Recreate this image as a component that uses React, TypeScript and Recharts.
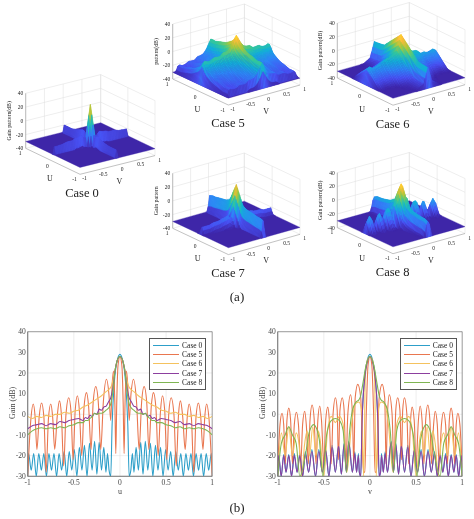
import React from "react";
import { ScatterChart, Scatter, XAxis, YAxis, LineChart, Line, CartesianGrid, ReferenceArea, Legend } from "recharts";

type Cut = [number, number][];

// Half cuts [offset from 0, gain dB]; the patterns read as symmetric about 0.
const case0U: Cut = [[0,29],[.03,26],[.06,16],[.085,-5],[.1,-30],[.118,-27],[.135,-19],[.152,-28],[.175,-16],[.2,-27],[.225,-13.5],[.25,-29],[.275,-13],[.302,-27],[.33,-14],[.357,-30],[.385,-15],[.412,-27],[.44,-16],[.467,-30],[.495,-17],[.522,-27],[.55,-18],[.577,-30],[.605,-18],[.632,-27],[.66,-19],[.687,-30],[.715,-19],[.742,-27],[.77,-19],[.797,-30],[.825,-19],[.852,-27],[.88,-19],[.907,-30],[.935,-19],[.962,-27],[.99,-19],[1,-30]];
const case5U: Cut = [[0,28],[.02,24],[.035,5],[.045,-19],[.055,5],[.07,21],[.085,14],[.1,-3],[.12,10],[.146,17],[.18,6],[.208,-17],[.235,6],[.262,13.5],[.29,6],[.313,-17],[.34,4],[.363,10.5],[.39,3],[.414,-20],[.44,2],[.461,9],[.485,2],[.508,-22],[.53,1],[.555,8],[.585,0],[.61,-25],[.635,0],[.656,6.5],[.68,-1],[.707,-17],[.73,-1],[.75,5],[.775,-2],[.8,-28],[.825,-1],[.85,5.5],[.875,-1],[.9,-17],[.92,-1],[.94,5],[.965,-2],[1,-30]];
const case6U: Cut = [[0,28],[.03,26],[.06,20],[.09,14],[.12,12],[.15,11],[.2,9],[.25,7.5],[.3,6],[.35,4.5],[.4,3.5],[.45,2],[.5,1.5],[.55,.5],[.6,1],[.65,0],[.7,0],[.75,-1],[.8,-.5],[.85,-1.5],[.9,-1],[.95,-2],[1,-1]];
const case7U: Cut = [[0,28],[.03,26],[.05,22],[.08,12],[.1,8],[.125,6],[.15,4],[.175,3.5],[.2,2],[.225,2.5],[.25,0],[.275,.5],[.3,-1],[.325,-.5],[.35,-2],[.375,-1.5],[.4,-3],[.45,-2],[.5,-2.5],[.55,-3],[.6,-4],[.65,-3.5],[.7,-5],[.75,-4.5],[.8,-5.5],[.85,-4.5],[.9,-5],[.95,-5.5],[1,-7]];
const case8U: Cut = [[0,28],[.03,26],[.05,22],[.08,10],[.1,5],[.125,3],[.15,2],[.175,1],[.2,.5],[.225,.5],[.25,0],[.275,.5],[.3,-1],[.325,-2],[.35,-3],[.375,-3],[.4,-4],[.45,-4],[.5,-5],[.55,-5.5],[.6,-6.5],[.65,-6],[.7,-7],[.75,-6.5],[.8,-7],[.85,-6.5],[.9,-7],[.95,-8],[1,-10]];

const case0V: Cut = [[0,29],[.03,26],[.06,17],[.085,-3],[.1,-30],[.115,-28],[.125,-19],[.145,-28],[.165,-18],[.19,-28],[.23,-13],[.255,-28],[.28,-14],[.31,-29],[.34,-15],[.375,-28],[.41,-15],[.445,-30],[.48,-17],[.515,-28],[.555,-17],[.59,-30],[.63,-17],[.665,-28],[.7,-18],[.73,-30],[.76,-19],[.79,-28],[.82,-19],[.85,-30],[.88,-19.5],[.91,-28],[.935,-19.5],[.962,-30],[.99,-19.5],[1,-30]];
const case5V: Cut = [[0,28],[.02,24],[.04,0],[.055,-28],[.07,-28],[.1,8],[.132,14.5],[.16,8],[.175,-24],[.19,0],[.21,9.5],[.24,0],[.26,-25],[.28,2],[.3,8],[.325,2],[.342,-22],[.355,2],[.374,8],[.4,0],[.42,-24],[.44,-3],[.457,3.5],[.48,-3],[.5,-24],[.525,-3],[.544,4],[.565,-3],[.585,-24],[.605,-2],[.627,4.5],[.65,-3],[.667,-24],[.69,-5],[.707,1.5],[.73,-5],[.75,-24],[.775,-5],[.797,1],[.82,-5],[.84,-24],[.86,-3],[.88,3],[.9,-3],[.917,-24],[.935,-5],[.953,.5],[.975,-5],[1,-26]];
const case6V: Cut = [[0,28],[.03,26],[.05,18],[.068,-30],[.09,2],[.12,6],[.16,5],[.2,-5],[.25,-28],[.29,-5],[.33,-1],[.375,-4],[.42,-1],[.46,-8],[.5,-30],[.54,-12],[.56,-8],[.585,-20],[.62,-6],[.655,-20],[.68,-8],[.71,-15],[.74,-30],[.77,-14],[.8,-9],[.84,-20],[.88,-6],[.92,-20],[.96,-9],[1,-30]];
const case7V: Cut = [[0,28],[.03,25],[.06,16],[.085,-3],[.1,-30],[.115,-28],[.125,-20],[.145,-28],[.165,-19],[.19,-28],[.23,-13.5],[.255,-28],[.28,-14.5],[.31,-29],[.34,-15.5],[.375,-28],[.41,-16],[.445,-30],[.48,-17.5],[.515,-28],[.555,-18],[.59,-30],[.63,-18],[.665,-28],[.7,-19],[.73,-30],[.76,-20],[.79,-28],[.82,-20],[.85,-30],[.88,-20],[.91,-28],[.935,-20],[.962,-30],[.99,-20],[1,-30]];
const case8V: Cut = [[0,28],[.04,24],[.08,14],[.1,9],[.12,7],[.15,6],[.19,2],[.22,-8],[.255,-28],[.29,-8],[.33,-3],[.375,-2],[.42,-3],[.47,-10],[.51,-30],[.55,-12],[.61,-5],[.66,-9],[.7,-20],[.76,-30],[.8,-14],[.84,-10],[.88,-6],[.92,-10],[.96,-14],[1,-30]];

const caseNames = ["Case 0", "Case 5", "Case 6", "Case 7", "Case 8"];
const lineColors = ["#2d9fc9", "#e9764f", "#f4c25e", "#8c3f9f", "#7fb552"];
const uCuts = [case0U, case5U, case6U, case7U, case8U];
const vCuts = [case0V, case5V, case6V, case7V, case8V];
const gainTicks = [-30, -20, -10, 0, 10, 20, 30, 40];
const cutTicks = [-1, -0.5, 0, 0.5, 1];
const surfaceGainTicks = [-40, -20, 0, 20, 40];
const surfaceUTicks = [1, 0, -1];
const surfaceVTicks = [-1, -0.5, 0, 0.5, 1];
// Cases whose v cut keeps its deep nulls on the surface.
const keepVNulls = [false, false, false, false, true];
const zTitles = ["Gain pattern(dB)", "pattern(dB)", "Gain pattern(dB)", "Gain pattern", "Gain pattern(dB)"];

// Box corners at gain -40 (L: u=1,v=-1; R: u=-1,v=1; B: u=1,v=1), caption position.
const panels = [
  { L: [25.7, 148.3], R: [155, 155.6], B: [100.7, 129.6], cap: [82, 197] },
  { L: [172.7, 79], R: [300, 85], B: [244.4, 59], cap: [228, 127] },
  { L: [337.3, 78], R: [465, 84.7], B: [409.3, 57.5], cap: [392.7, 128] },
  { L: [172.7, 228.3], R: [300, 234.3], B: [244.3, 208], cap: [228, 277] },
  { L: [337.3, 227.7], R: [465, 233.5], B: [409.3, 207.5], cap: [392.7, 276] },
];
const Z_PX = 55 / 80;
const SERIF = "'Liberation Serif', serif";
const STEP = 1 / 25;
const FLOOR = -30;

const parula = [[62,38,168],[72,82,244],[46,135,247],[18,177,214],[55,200,151],[171,199,57],[254,187,58],[249,251,21]];
function color(z: number) {
  const t = Math.max(0, Math.min(0.9999, (z - FLOOR) / 60)) * (parula.length - 1);
  const i = Math.floor(t), f = t - i;
  const c = parula[i].map((a, k) => Math.round(a + (parula[i + 1][k] - a) * f));
  return `rgb(${c[0]},${c[1]},${c[2]})`;
}
function envelope(cut: Cut): Cut {
  return cut.filter((p, i) => {
    const a = cut[i - 1], b = cut[i + 1];
    return i === 0 || !b || (p[1] >= a[1] && p[1] >= b[1]);
  });
}
function lookup(cut: Cut, t: number) {
  const x = Math.abs(t);
  if (x >= 0.995) return FLOOR;
  for (let i = 1; i < cut.length; i++) {
    if (x <= cut[i][0]) {
      const f = (x - cut[i - 1][0]) / (cut[i][0] - cut[i - 1][0]);
      return cut[i - 1][1] + (cut[i][1] - cut[i - 1][1]) * f;
    }
  }
  return cut[cut.length - 1][1];
}
function project(p: (typeof panels)[number], u: number, v: number, z: number) {
  const a = (1 - u) / 2, b = (v + 1) / 2; // a: toward R side from B edge
  // L is a=0,b=0; B is a=0,b=1; R is a=1,b=1
  const x = p.L[0] + (p.B[0] - p.L[0]) * b + (p.R[0] - p.B[0]) * a;
  const y = p.L[1] + (p.B[1] - p.L[1]) * b + (p.R[1] - p.B[1]) * a;
  return [x, y - (z + 40) * Z_PX];
}

type Seg = { x: number; y: number; dx: number; dy: number; stroke: string; w: number };
const segments: Seg[] = [];
type Txt = { x: number; y: number; text: string; size: number; anchor: string; rotate?: number };
const texts: Txt[] = [];
type Quad = { x: number; y: number; pts: number[][]; fill: string };
const quads: Quad[] = [];

panels.forEach((p, idx) => {
  const seg = (a: number[], b: number[], stroke = "#dcdcdc", w = 0.5) =>
    segments.push({ x: a[0], y: a[1], dx: b[0] - a[0], dy: b[1] - a[1], stroke, w });
  surfaceGainTicks.forEach((z) => {
    seg(project(p, 1, -1, z), project(p, 1, 1, z));
    seg(project(p, 1, 1, z), project(p, -1, 1, z));
    texts.push({ x: p.L[0] - 2.5, y: project(p, 1, -1, z)[1] + 2, text: String(z), size: 5.5, anchor: "end" });
  });
  surfaceVTicks.forEach((v) => {
    seg(project(p, 1, v, -40), project(p, 1, v, 40));
    const q = project(p, -1, v, -40);
    texts.push({ x: q[0] + 4.5, y: q[1] + 6, text: String(v), size: 5.5, anchor: "middle" });
  });
  surfaceUTicks.forEach((u) => {
    seg(project(p, u, 1, -40), project(p, u, 1, 40));
    const q = project(p, u, -1, -40);
    texts.push({ x: q[0] - 5.5, y: q[1] + 6.5, text: String(u), size: 5.5, anchor: "middle" });
  });
  seg(project(p, 1, -1, -40), project(p, -1, -1, -40), "#999", 0.6);
  seg(project(p, -1, -1, -40), project(p, -1, 1, -40), "#999", 0.6);
  seg(project(p, 1, -1, -40), project(p, 1, -1, 40), "#999", 0.6);
  const mu = project(p, 0, -1, -40), mv = project(p, -1, 0, -40);
  texts.push({ x: mu[0] - 3, y: mu[1] + 20, text: "U", size: 8, anchor: "middle" });
  texts.push({ x: mv[0] + 2, y: mv[1] + 19, text: "V", size: 8, anchor: "middle" });
  const zm = project(p, 1, -1, 0);
  texts.push({ x: p.L[0] - 15, y: zm[1], text: zTitles[idx], size: 5.8, anchor: "middle", rotate: -90 });
  texts.push({ x: p.cap[0], y: p.cap[1], text: caseNames[idx], size: 12.5, anchor: "middle" });

  const uE = envelope(uCuts[idx]);
  const vE = keepVNulls[idx] ? vCuts[idx] : envelope(vCuts[idx]);
  const peak = uCuts[idx][0][1];
  const gain = (u: number, v: number) => Math.max(FLOOR, lookup(uE, u) + lookup(vE, v) - peak);
  const n = Math.round(2 / STEP);
  // floor plate first
  const fl = [project(p, 1, -1, FLOOR), project(p, -1, -1, FLOOR), project(p, -1, 1, FLOOR), project(p, 1, 1, FLOOR)];
  const fc = project(p, 0, 0, FLOOR);
  quads.push({ x: fc[0], y: fc[1], pts: fl.map((q) => [q[0] - fc[0], q[1] - fc[1]]), fill: color(FLOOR) });
  for (let i = 0; i < n; i++) {
    const u1 = 1 - i * STEP, u0 = u1 - STEP;
    for (let j = 0; j < n; j++) {
      const v1 = 1 - j * STEP, v0 = v1 - STEP;
      const zs = [gain(u1, v1), gain(u1, v0), gain(u0, v0), gain(u0, v1)];
      if (zs.every((z) => z <= FLOOR + 0.01)) continue;
      const c = project(p, (u0 + u1) / 2, (v0 + v1) / 2, (zs[0] + zs[1] + zs[2] + zs[3]) / 4);
      const corners = [project(p, u1, v1, zs[0]), project(p, u1, v0, zs[1]), project(p, u0, v0, zs[2]), project(p, u0, v1, zs[3])];
      quads.push({ x: c[0], y: c[1], pts: corners.map((q) => [q[0] - c[0], q[1] - c[1]]), fill: color((zs[0] + zs[1] + zs[2] + zs[3]) / 4) });
    }
  }
});
texts.push({ x: 237, y: 301, text: "(a)", size: 13, anchor: "middle" });
texts.push({ x: 237, y: 512, text: "(b)", size: 13, anchor: "middle" });

const mirror = (cut: Cut) => {
  const right = cut.map(([x, g]) => ({ x, g }));
  const left = cut.slice(1).map(([x, g]) => ({ x: -x, g })).reverse();
  return [...left, ...right];
};

function CutLegend(props: any) {
  return (
    <div style={{ border: "1px solid #555", background: "#fff", padding: "2px 3px", width: 49, fontFamily: SERIF, fontSize: 7.5, lineHeight: "9.4px", color: "#222", boxSizing: "content-box" }}>
      {(props.payload || []).map((e: any) => (
        <div key={e.value} style={{ display: "flex", alignItems: "center", height: 9.4 }}>
          <span style={{ display: "inline-block", width: 27, height: 0, borderTop: `1.3px solid ${e.color}`, marginRight: 3 }} />
          <span style={{ whiteSpace: "nowrap" }}>{e.value}</span>
        </div>
      ))}
    </div>
  );
}

function CutChart({ cuts, label, left, plotLeft, legendLeft, showBlueOnTop }: any) {
  const axisFont = { fontSize: 7.5, fontFamily: SERIF, fill: "#444" };
  return (
    <div style={{ position: "absolute", left, top: 320 }}>
      <LineChart width={237} height={199} margin={{ left: plotLeft - 24, right: 237 - plotLeft - 184.5, top: 11.7, bottom: 199 - 156.3 - 24 }}>
        <CartesianGrid stroke="#e2e2e2" strokeWidth={0.6} verticalValues={cutTicks} horizontalValues={gainTicks} />
        <XAxis type="number" dataKey="x" domain={[-1, 1]} ticks={cutTicks} allowDataOverflow height={24} tick={axisFont} tickSize={0} tickMargin={3} tickFormatter={(v: number) => String(v)} stroke="#666" strokeWidth={0.6}
          label={{ value: label, position: "insideBottom", offset: 6, style: { fontSize: 8, fontFamily: SERIF, fill: "#444" } }} />
        <YAxis type="number" domain={[-30, 40]} ticks={gainTicks} allowDataOverflow width={24} tick={axisFont} tickSize={0} tickMargin={2} stroke="#666" strokeWidth={0.6}
          label={{ value: "Gain (dB)", angle: -90, position: "insideLeft", offset: 8, dy: 15, style: { fontSize: 8, fontFamily: SERIF, fill: "#444" } }} />
        <ReferenceArea x1={-1} x2={1} y1={-30} y2={40} fill="none" stroke="#666" strokeWidth={0.6} />
        {cuts.map((c: Cut, i: number) => (
          <Line key={caseNames[i]} name={caseNames[i]} data={mirror(c)} dataKey="g" type="monotone" stroke={lineColors[i]} strokeWidth={1.1} dot={false} isAnimationActive={false} />
        ))}
        <Legend layout="vertical" align="center" verticalAlign="middle" content={<CutLegend />} wrapperStyle={{ left: legendLeft, top: 17.5, width: 57, height: 49 }} />
      </LineChart>
    </div>
  );
}

const SegShape = (p: any) => {
  const s = p.payload;
  return <line x1={p.cx} y1={p.cy} x2={p.cx + s.dx} y2={p.cy + s.dy} stroke={s.stroke} strokeWidth={s.w} />;
};
const QuadShape = (p: any) => {
  const s = p.payload;
  return <polygon points={s.pts.map((q: number[]) => `${p.cx + q[0]},${p.cy + q[1]}`).join(" ")} fill={s.fill} stroke={s.fill} strokeWidth={0.35} />;
};
const TextShape = (p: any) => {
  const s = p.payload;
  return (
    <text x={p.cx} y={p.cy} textAnchor={s.anchor} fontFamily={SERIF} fontSize={s.size} fill="#222"
      transform={s.rotate ? `rotate(${s.rotate} ${p.cx} ${p.cy})` : undefined}>{s.text}</text>
  );
};

export default function App() {
  return (
    <div style={{ position: "absolute", left: 0, top: 0, width: 474, height: 519, background: "#fff", overflow: "hidden", filter: "blur(0.4px)" }}>
      <div style={{ position: "absolute", left: 0, top: 0 }}>
        <ScatterChart width={474} height={519} margin={{ left: 0, right: 0, top: 0, bottom: 0 }}>
          <XAxis type="number" dataKey="x" domain={[0, 474]} hide allowDataOverflow />
          <YAxis type="number" dataKey="y" domain={[0, 519]} reversed hide allowDataOverflow />
          <Scatter data={segments} shape={SegShape} isAnimationActive={false} />
          <Scatter data={quads} shape={QuadShape} isAnimationActive={false} />
          <Scatter data={texts} shape={TextShape} isAnimationActive={false} />
        </ScatterChart>
      </div>
      <CutChart cuts={uCuts} label="u" left={0} plotLeft={27.7} legendLeft={149.3} />
      <CutChart cuts={vCuts} label="v" left={237} plotLeft={40.7} legendLeft={163} />
    </div>
  );
}
